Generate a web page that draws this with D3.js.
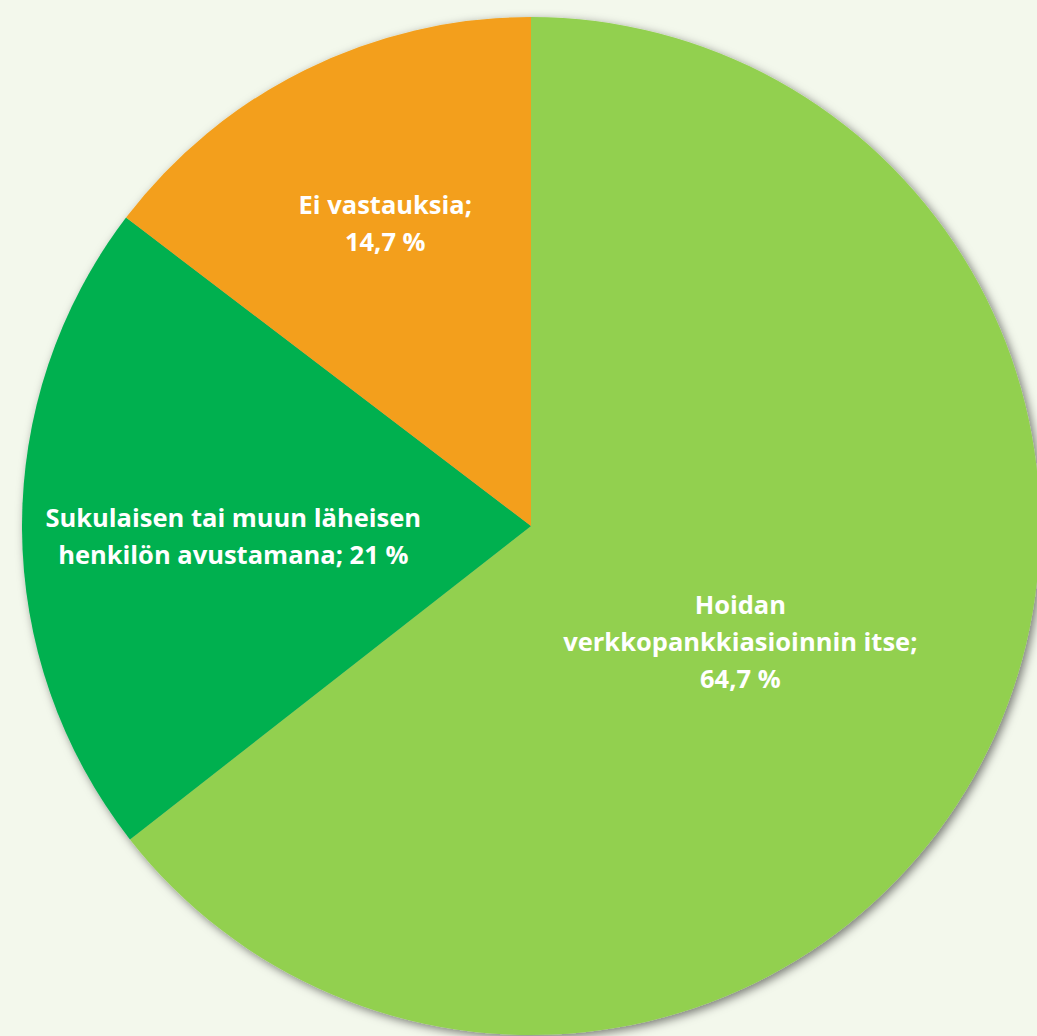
<!DOCTYPE html>
<html>
<head>
<meta charset="utf-8">
<script src="https://cdn.jsdelivr.net/npm/d3@7"></script>
<style>
  html, body { margin: 0; padding: 0; background: #f3f8ec; }
  svg { display: block; }
</style>
</head>
<body>
<svg id="chart" width="1037" height="1036"></svg>
<script>
// data
var categories = ["Hoidan verkkopankkiasioinnin itse", "Sukulaisen tai muun läheisen henkilön avustamana", "Ei vastauksia"];
var values = [64.7, 21, 14.7];
var labelLines = [
  ["Hoidan", "verkkopankkiasioinnin itse;", "64,7 %"],
  ["Sukulaisen tai muun läheisen", "henkilön avustamana; 21 %"],
  ["Ei vastauksia;", "14,7 %"]
];
var colors = ["#92d050", "#00b050", "#f39f1b"];

var width = 1037, height = 1036;
var cx = 531, cy = 526, r = 509;
// where each label sits: fraction of radius along the slice middle, plus a small nudge
var labelPos = [0.475, 0.585, 0.645];
var labelNudge = [[-8, 10], [0, 9], [0, -8]];

var svg = d3.select("#chart");
svg.append("rect").attr("width", width).attr("height", height).attr("fill", "#f3f8ec");

var defs = svg.append("defs");
var filt = defs.append("filter").attr("id", "shadow")
    .attr("x", "-10%").attr("y", "-10%").attr("width", "120%").attr("height", "120%");
filt.append("feDropShadow")
    .attr("dx", 3).attr("dy", 3).attr("stdDeviation", 5)
    .attr("flood-color", "#000").attr("flood-opacity", 0.5);

var pie = d3.pie().sort(null).value(function(d) { return d; });
var arcs = pie(values);
var arc = d3.arc().innerRadius(0).outerRadius(r);

var g = svg.append("g").attr("transform", "translate(" + cx + "," + cy + ")");

g.append("g").attr("filter", "url(#shadow)")
  .selectAll("path")
  .data(arcs)
  .enter().append("path")
    .attr("d", arc)
    .attr("fill", function(d, i) { return colors[i]; });

var lineH = 37;
var labels = g.selectAll("text.lbl")
  .data(arcs)
  .enter().append("text")
    .attr("class", "lbl")
    .attr("transform", function(d, i) {
      var a = d3.arc().innerRadius(0).outerRadius(2 * r * labelPos[i]);
      var c = a.centroid(d);
      return "translate(" + (c[0] + labelNudge[i][0]) + "," + (c[1] + labelNudge[i][1]) + ")";
    })
    .attr("text-anchor", "middle")
    .attr("fill", "#ffffff")
    .style("font-family", "'Open Sans', sans-serif")
    .style("font-weight", "bold")
    .style("font-size", "25.5px");

labels.each(function(d, i) {
  var lines = labelLines[i];
  var t = d3.select(this);
  var off = -(lines.length - 1) / 2 * lineH;
  lines.forEach(function(s, k) {
    t.append("tspan")
      .attr("x", 0)
      .attr("y", off + k * lineH)
      .attr("dy", "0.35em")
      .text(s);
  });
});
</script>
</body>
</html>
